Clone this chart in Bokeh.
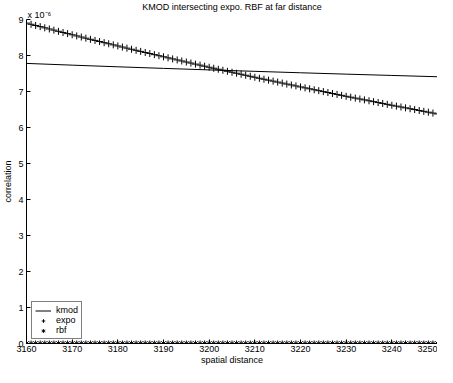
from bokeh.plotting import figure
from bokeh.models import Legend, LegendItem, Title, FixedTicker, Range1d
from bokeh.embed import file_html
from bokeh.resources import INLINE

FONT = "Liberation Sans"

title_text = "KMOD intersecting expo. RBF at far distance"
x_label = "spatial distance"
y_label = "correlation"
y_scale_text = "x 10\u207b\u2076"

# spatial distance (step 1)
distance = list(range(3160, 3251))

# values in units of 1e-6
expo = [
    8.900, 8.867, 8.834, 8.802, 8.769, 8.737, 8.705, 8.672, 8.640, 8.608,
    8.576, 8.544, 8.513, 8.481, 8.450, 8.419, 8.388, 8.357, 8.326, 8.296,
    8.265, 8.235, 8.204, 8.174, 8.144, 8.114, 8.084, 8.054, 8.024, 7.994,
    7.964, 7.935, 7.906, 7.877, 7.848, 7.819, 7.790, 7.761, 7.732, 7.703,
    7.674, 7.646, 7.618, 7.590, 7.562, 7.534, 7.507, 7.479, 7.451, 7.423,
    7.395, 7.368, 7.341, 7.315, 7.288, 7.261, 7.234, 7.207, 7.181, 7.154,
    7.127, 7.101, 7.075, 7.049, 7.023, 6.997, 6.971, 6.945, 6.919, 6.893,
    6.867, 6.842, 6.817, 6.792, 6.767, 6.742, 6.718, 6.693, 6.668, 6.643,
    6.618, 6.594, 6.570, 6.546, 6.522, 6.498, 6.473, 6.449, 6.425, 6.401,
    6.377,
]

rbf = [
    0.0, 0.0, 0.0, 0.0, 0.0, 0.0, 0.0, 0.0, 0.0, 0.0,
    0.0, 0.0, 0.0, 0.0, 0.0, 0.0, 0.0, 0.0, 0.0, 0.0,
    0.0, 0.0, 0.0, 0.0, 0.0, 0.0, 0.0, 0.0, 0.0, 0.0,
    0.0, 0.0, 0.0, 0.0, 0.0, 0.0, 0.0, 0.0, 0.0, 0.0,
    0.0, 0.0, 0.0, 0.0, 0.0, 0.0, 0.0, 0.0, 0.0, 0.0,
    0.0, 0.0, 0.0, 0.0, 0.0, 0.0, 0.0, 0.0, 0.0, 0.0,
    0.0, 0.0, 0.0, 0.0, 0.0, 0.0, 0.0, 0.0, 0.0, 0.0,
    0.0, 0.0, 0.0, 0.0, 0.0, 0.0, 0.0, 0.0, 0.0, 0.0,
    0.0, 0.0, 0.0, 0.0, 0.0, 0.0, 0.0, 0.0, 0.0, 0.0,
    0.0,
]

kmod_x = [3160, 3170, 3180, 3190, 3200, 3210, 3220, 3230, 3240, 3250]
kmod = [7.780, 7.732, 7.686, 7.642, 7.600, 7.560, 7.520, 7.482, 7.446, 7.410]

x_ticks = [3160, 3170, 3180, 3190, 3200, 3210, 3220, 3230, 3240, 3250]
y_ticks = [0, 1, 2, 3, 4, 5, 6, 7, 8, 9]

p = figure(width=437, height=367, output_backend="svg", toolbar_location=None,
           x_range=Range1d(3160, 3250), y_range=Range1d(0, 9),
           min_border_left=18, min_border_right=0, min_border_top=19,
           min_border_bottom=0)
p.outline_line_color = None
p.xgrid.visible = False
p.ygrid.visible = False
p.background_fill_color = "white"
p.border_fill_color = "white"

# scale factor note, closest to the frame
p.add_layout(Title(text=y_scale_text, align="left", offset=1, standoff=0,
                   text_font=FONT, text_font_size="9px", text_font_style="normal",
                   text_color="black"), "above")

p.title.text = title_text
p.title.text_font = FONT
p.title.text_font_size = "9px"
p.title.text_font_style = "normal"
p.title.text_color = "black"
p.title.align = "center"
p.title.standoff = -8
p.title.offset = 0

for ax in (p.xaxis[0], p.yaxis[0]):
    ax.axis_line_color = "black"
    ax.major_tick_line_color = "black"
    ax.major_tick_in = 4
    ax.major_tick_out = 0
    ax.minor_tick_line_color = None
    ax.major_label_text_font = FONT
    ax.major_label_text_font_size = "9px"
    ax.major_label_text_color = "black"
    ax.axis_label_text_font = FONT
    ax.axis_label_text_font_size = "9px"
    ax.axis_label_text_font_style = "normal"
    ax.axis_label_text_color = "black"

p.xaxis.ticker = FixedTicker(ticks=x_ticks)
p.yaxis.ticker = FixedTicker(ticks=y_ticks)
p.xaxis.axis_label = x_label
p.yaxis.axis_label = y_label
p.xaxis.major_label_standoff = 2
p.xaxis.axis_label_standoff = 0
p.yaxis.major_label_standoff = 3
p.yaxis.axis_label_standoff = 2

r_kmod = p.line(kmod_x, kmod, line_color="black", line_width=1)
r_expo = p.scatter(distance, expo, marker="cross", size=7, line_color="black", line_width=1)
r_rbf = p.scatter(distance, rbf, marker="asterisk", size=6, line_color="black", line_width=1)

legend = Legend(items=[LegendItem(label="kmod", renderers=[r_kmod]),
                       LegendItem(label="expo", renderers=[r_expo]),
                       LegendItem(label="rbf", renderers=[r_rbf])],
                location=(5, 4), orientation="vertical",
                border_line_color="black", border_line_width=1.5,
                background_fill_alpha=1.0, padding=3, spacing=0, margin=0,
                glyph_width=16, glyph_height=9, label_height=9,
                label_standoff=5, label_text_font=FONT, label_text_font_size="9px",
                label_text_color="black")
p.add_layout(legend)

open("out.html", "w").write(file_html(p, INLINE))
